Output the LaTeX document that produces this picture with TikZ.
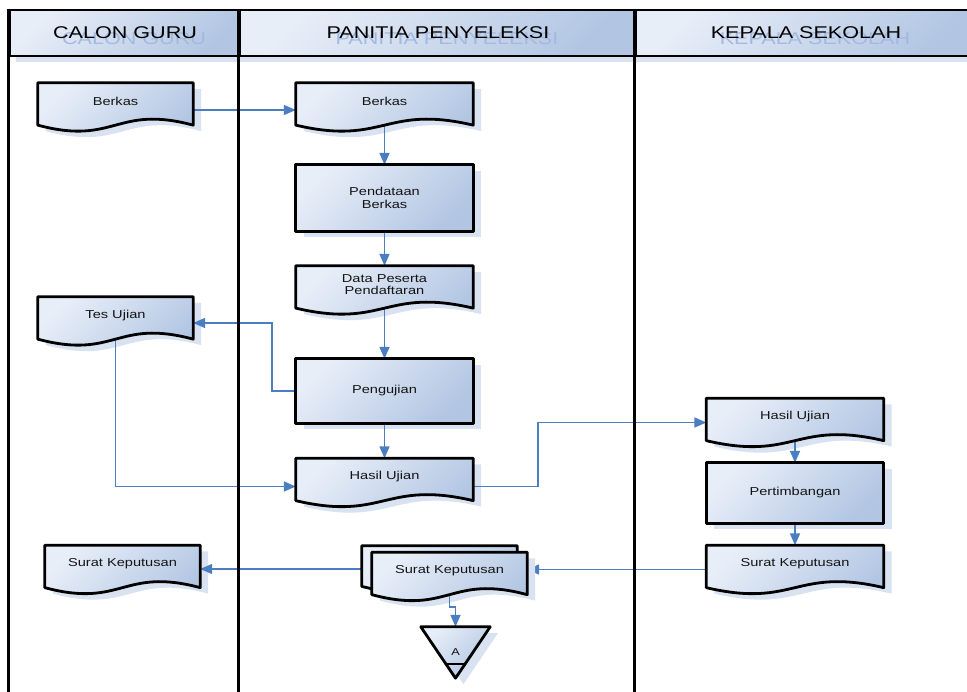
\documentclass[tikz,border=0pt]{standalone}
\usepackage{fontspec}
\setmainfont{Liberation Sans}[FakeStretch=1.27]
\usetikzlibrary{arrows.meta,shadows,calc}
\definecolor{boxlight}{RGB}{232,238,248}
\definecolor{boxdark}{RGB}{178,198,227}
\definecolor{shadowblue}{RGB}{216,226,241}
\definecolor{flowblue}{RGB}{74,126,193}
\definecolor{ghostblue}{RGB}{163,185,222}
\definecolor{textgray}{RGB}{20,20,20}
\newcommand\boxfont{\fontsize{11.5}{12.7}\selectfont}
\pgfdeclarelayer{back}
\pgfdeclarelayer{wire}
\pgfdeclarelayer{form}
\pgfsetlayers{back,wire,form,main}
\tikzset{
  docpath/.style={insert path={let \p1=(#1.north west), \p2=(#1.south east), \n1={\y1-\y2}, \n2={(\x1+\x2)/2} in
    (\x1,\y1) -- (\x2,\y1) -- (\x2,{\y2+0.125*\n1})
    .. controls (\n2,{\y2+0.555*\n1}) and (\n2,{\y2-0.305*\n1}) .. (\x1,{\y2+0.125*\n1}) -- cycle}},
  tripath/.style={insert path={let \p1=(#1.north west), \p2=(#1.south east) in
    (\x1,\y1) -- (\x2,\y1) -- ({(\x1+\x2)/2},\y2) -- cycle}}
}
\begin{document}
\begin{tikzpicture}[x=1pt, y=-1pt,
  lanehead/.style={draw, line width=2.6pt, inner sep=0, minimum height=46pt,
    top color=boxlight, bottom color=boxdark, shading angle=45,
    font=\fontsize{17}{20}\selectfont,
    drop shadow={shadow xshift=6pt, shadow yshift=-6pt, fill=shadowblue, opacity=1},
    path picture={\node[text=ghostblue] at ([xshift=9pt,yshift=-6pt]path picture bounding box.center) {#1};}},
  lane/.style={line width=2.6pt},
  docnode/.style={inner sep=0, minimum height=48pt},
  narrow/.style={minimum width=155pt},
  wide/.style={minimum width=177pt},
  doctext/.style={align=center, yshift=5.5pt, font=\boxfont, text=textgray},
  procbox/.style={inner sep=0, minimum width=177pt, align=center, font=\boxfont, text=textgray},
  formstyle/.style={draw, line width=2.8pt, line join=round, top color=boxlight, bottom color=boxdark, shading angle=45},
  flow/.style={draw=flowblue, line width=1.7pt, -{Triangle[length=12pt,width=10pt]}}
]
\useasboundingbox (0,0) rectangle (967,692);

\node[lanehead=CALON GURU, minimum width=230pt] (hdrCG) at (125,33) {CALON GURU};
\node[lanehead=PANITIA PENYELEKSI, minimum width=396pt] (hdrPP) at (438,33) {PANITIA PENYELEKSI};
\node[lanehead=KEPALA SEKOLAH, minimum width=340pt] (hdrKS) at (806,33) {KEPALA SEKOLAH};
\foreach \nm in {hdrCG,hdrPP,hdrKS}
  \draw[lane] (\nm.north west) -- (\nm.north west |- 0,700);

\node[docnode, narrow, label={[doctext]center:Berkas}] (berkasCG) at (115.5,107) {};
\node[docnode, wide, right of=berkasCG, node distance=269pt, label={[doctext]center:Berkas}] (berkasPP) {};
\node[procbox, minimum height=66pt, below of=berkasPP, node distance=91pt] (pendataan) {Pendataan\\Berkas};
\node[docnode, wide, below of=pendataan, node distance=92pt, label={[doctext]center:Data Peserta\\Pendaftaran}] (dataPeserta) {};
\node[procbox, minimum height=64pt, below of=dataPeserta, node distance=101pt] (pengujian) {Pengujian};
\node[docnode, wide, below of=pengujian, node distance=91.5pt, label={[doctext]center:Hasil Ujian}] (hasilPP) {};
\node[docnode, narrow, below of=berkasCG, node distance=214pt, label={[doctext]center:Tes Ujian}] (tesUjian) {};
\node[docnode, wide, label={[doctext]center:Hasil Ujian}] (hasilKS) at (795,422.5) {};
\node[procbox, minimum height=60pt, below of=hasilKS, node distance=70.5pt] (pertimbangan) {Pertimbangan};
\node[docnode, wide, below of=pertimbangan, node distance=76.5pt, label={[doctext]center:Surat Keputusan}] (suratKS) {};
\node[docnode, narrow, label={[doctext]center:Surat Keputusan}] (suratCG) at (122.5,569.5) {};
\node[docnode, narrow, label={[doctext]center:Surat Keputusan}] (suratPP) at (449.5,576.5) {};
\node[docnode, narrow, minimum height=46pt] (suratPPb) at (439.5,569) {};
\node[inner sep=0, minimum width=69pt, minimum height=51pt, font=\fontsize{10}{12}\selectfont, text=textgray] (offA) at (455.5,652.5) {A};
\coordinate (jog) at (455.5,607);

\begin{pgfonlayer}{back}
\draw[flow] (suratKS.west) -- (suratKS.west -| suratPP.east);
\begin{scope}[transform canvas={xshift=8pt,yshift=-6pt}]
\foreach \nm in {berkasCG,berkasPP,dataPeserta,hasilPP,tesUjian,hasilKS,suratKS,suratCG,suratPPb,suratPP}
  \fill[shadowblue, docpath=\nm];
\foreach \nm in {pendataan,pengujian,pertimbangan}
  \fill[shadowblue] (\nm.north west) rectangle (\nm.south east);
\fill[shadowblue, tripath=offA];
\end{scope}
\end{pgfonlayer}

\begin{pgfonlayer}{wire}
\draw[flow] ([yshift=-3pt]berkasCG.east) -- ([yshift=-3pt]berkasPP.west);
\draw[flow] (berkasPP.center) -- (pendataan);
\draw[flow] (pendataan) -- (dataPeserta);
\draw[flow] (dataPeserta.center) -- (pengujian);
\draw[flow] (pengujian.west) -- ++(-24,0) |- ([yshift=-2pt]tesUjian.east);
\draw[flow] (tesUjian.center) |- ([yshift=-4pt]hasilPP.west);
\draw[flow] (pengujian) -- (hasilPP);
\draw[flow] ([yshift=-4pt]hasilPP.east) -- ++(65,0) |- (hasilKS.west);
\draw[flow] (hasilKS.center) -- (pertimbangan);
\draw[flow] (pertimbangan) -- (suratKS);
\draw[flow] (suratPPb.west) -- (suratPPb.west -| suratCG.east);
\draw[flow] (suratPP.center) |- (jog) -- (offA);
\end{pgfonlayer}

\begin{pgfonlayer}{form}
\foreach \nm in {berkasCG,berkasPP,dataPeserta,hasilPP,tesUjian,hasilKS,suratKS,suratCG,suratPPb,suratPP}
  \path[formstyle, docpath=\nm];
\foreach \nm in {pendataan,pengujian,pertimbangan}
  \path[formstyle] (\nm.north west) rectangle (\nm.south east);
\path[formstyle, tripath=offA];
\draw[line width=2pt] let \p1=(offA.north west), \p2=(offA.south east), \n1={(\x1+\x2)/2}, \n2={\x2-\x1}, \n3={\y1-\y2} in
  ({\n1-0.135*\n2},{\y2+0.27*\n3}) -- ({\n1+0.135*\n2},{\y2+0.27*\n3});
\end{pgfonlayer}
\end{tikzpicture}
\end{document}
